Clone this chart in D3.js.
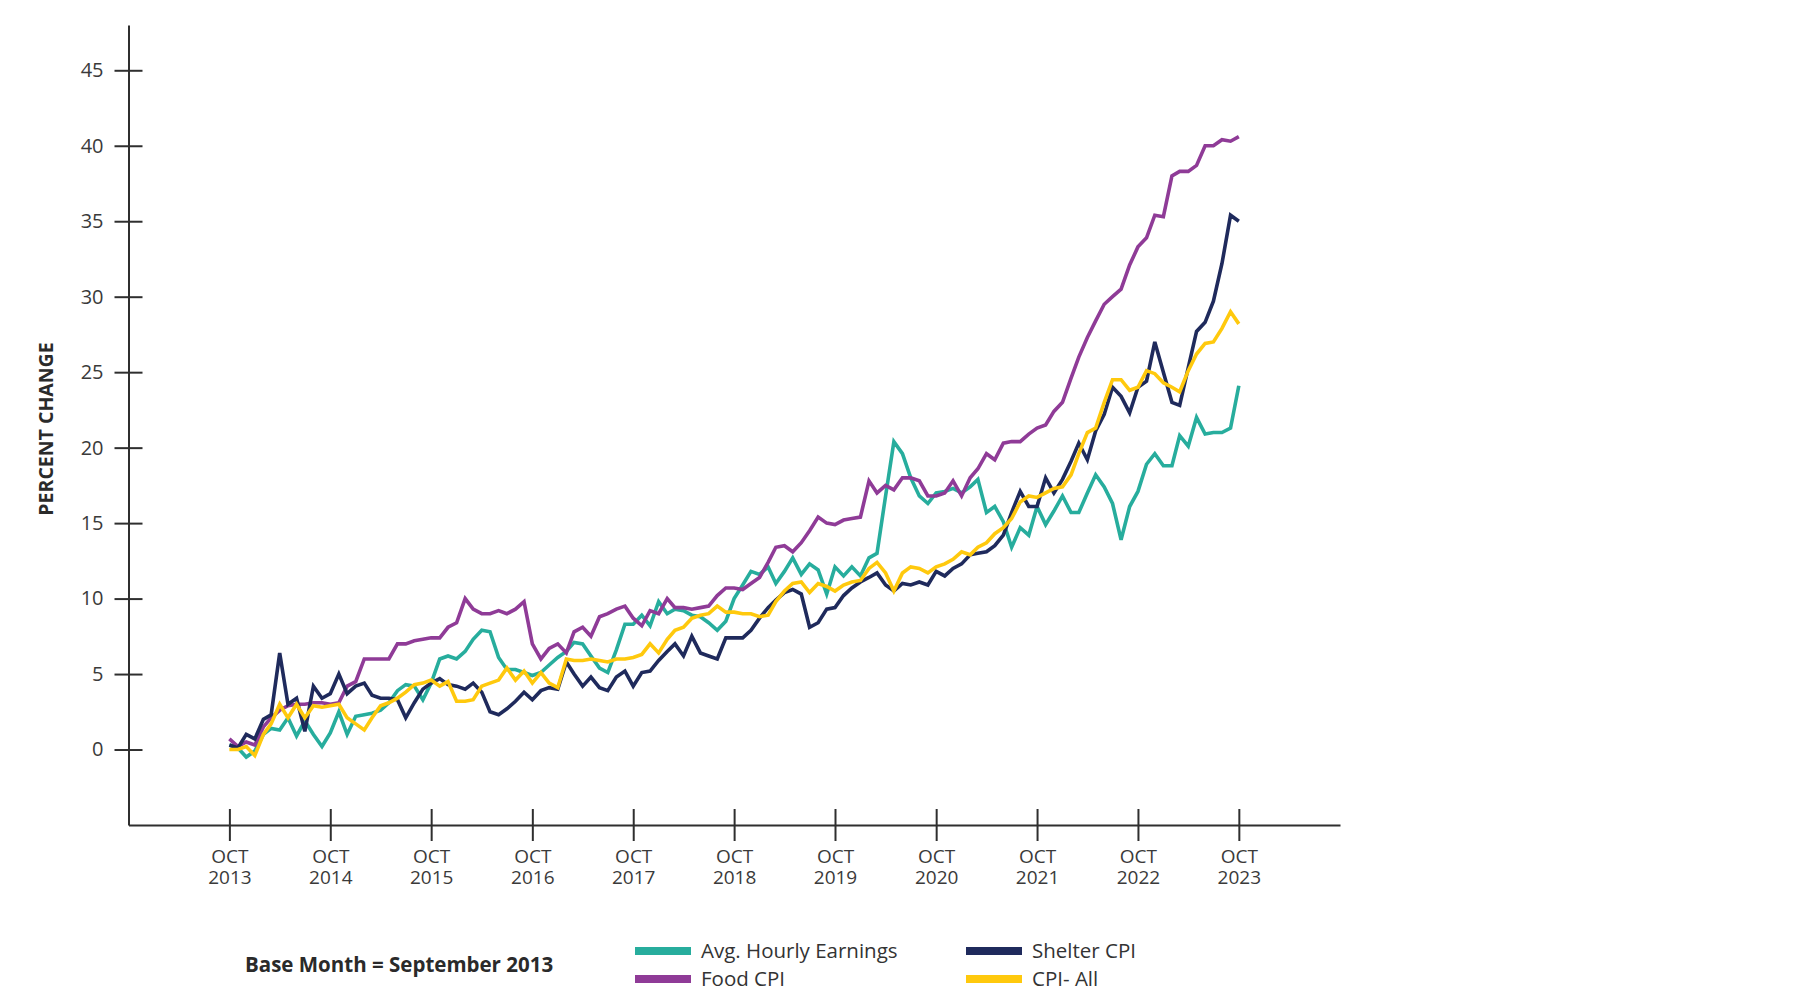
<!DOCTYPE html>
<html>
<head>
<meta charset="utf-8">
<script src="https://cdn.jsdelivr.net/npm/d3@7"></script>
<style>
  body { margin: 0; background: #fff; }
  text { font-family: "Open Sans", "Noto Sans", sans-serif; fill: #333; }
</style>
</head>
<body>
<svg id="chart" width="1800" height="1000"></svg>
<script>
// monthly series, Oct 2013 .. Oct 2023, percent change from Sep 2013
var firstMonth = new Date(Date.UTC(2013, 9, 1));

var earnings = [
  0.3, 0.1, -0.5, -0.1, 1.0, 1.4, 1.3, 2.1, 0.9, 1.9,
  1.0, 0.2, 1.1, 2.5, 1.0, 2.2, 2.3, 2.4, 2.6, 3.1,
  3.9, 4.3, 4.2, 3.3, 4.4, 6.0, 6.2, 6.0, 6.5, 7.3,
  7.9, 7.8, 6.1, 5.3, 5.3, 5.1, 4.9, 5.1, 5.6, 6.1,
  6.5, 7.1, 7.0, 6.2, 5.4, 5.1, 6.6, 8.3, 8.3, 8.9,
  8.2, 9.8, 9.0, 9.3, 9.2, 8.9, 8.8, 8.4, 7.9, 8.5,
  10.0, 10.9, 11.8, 11.6, 12.1, 11.0, 11.8, 12.7, 11.6, 12.3,
  11.9, 10.3, 12.1, 11.5, 12.1, 11.5, 12.7, 13.0, 16.8, 20.4,
  19.6, 18.0, 16.8, 16.3, 17.0, 17.1, 17.3, 17.0, 17.4, 17.9,
  15.7, 16.1, 15.1, 13.4, 14.7, 14.2, 16.1, 14.9, 15.8, 16.8,
  15.7, 15.7, 17.0, 18.2, 17.4, 16.3, 13.9, 16.1, 17.1, 18.9,
  19.6, 18.8, 18.8, 20.8, 20.1, 22.0, 20.9, 21.0, 21.0, 21.3,
  24.1];

var food = [
  0.7, 0.2, 0.5, 0.3, 1.5, 2.1, 2.6, 2.9, 3.0, 3.0,
  3.1, 3.1, 3.0, 3.1, 4.2, 4.5, 6.0, 6.0, 6.0, 6.0,
  7.0, 7.0, 7.2, 7.3, 7.4, 7.4, 8.1, 8.4, 10.0, 9.3,
  9.0, 9.0, 9.2, 9.0, 9.3, 9.8, 7.0, 6.0, 6.7, 7.0,
  6.4, 7.8, 8.1, 7.5, 8.8, 9.0, 9.3, 9.5, 8.7, 8.2,
  9.2, 9.0, 10.0, 9.4, 9.4, 9.3, 9.4, 9.5, 10.2, 10.7,
  10.7, 10.6, 11.0, 11.4, 12.4, 13.4, 13.5, 13.1, 13.7, 14.5,
  15.4, 15.0, 14.9, 15.2, 15.3, 15.4, 17.8, 17.0, 17.5, 17.2,
  18.0, 18.0, 17.8, 16.8, 16.8, 17.0, 17.8, 16.8, 18.0, 18.6,
  19.6, 19.2, 20.3, 20.4, 20.4, 20.9, 21.3, 21.5, 22.4, 23.0,
  24.6, 26.0, 27.3, 28.4, 29.5, 30.0, 30.5, 32.1, 33.3, 33.9,
  35.4, 35.3, 38.0, 38.3, 38.3, 38.7, 40.0, 40.0, 40.4, 40.3,
  40.6];

var shelter = [
  0.3, 0.1, 1.0, 0.7, 2.0, 2.3, 6.4, 3.0, 3.4, 1.2,
  4.2, 3.4, 3.7, 5.0, 3.7, 4.2, 4.4, 3.6, 3.4, 3.4,
  3.3, 2.1, 3.1, 4.0, 4.4, 4.7, 4.3, 4.2, 4.0, 4.4,
  3.8, 2.5, 2.3, 2.7, 3.2, 3.8, 3.3, 3.9, 4.1, 4.0,
  5.8, 5.0, 4.2, 4.8, 4.1, 3.9, 4.8, 5.2, 4.2, 5.1,
  5.2, 5.9, 6.5, 7.0, 6.2, 7.5, 6.4, 6.2, 6.0, 7.4,
  7.4, 7.4, 7.9, 8.7, 9.4, 9.9, 10.4, 10.6, 10.3, 8.1,
  8.4, 9.3, 9.4, 10.2, 10.7, 11.1, 11.4, 11.7, 10.9, 10.5,
  11.0, 10.9, 11.1, 10.9, 11.8, 11.5, 12.0, 12.3, 12.9, 13.0,
  13.1, 13.5, 14.2, 15.7, 17.1, 16.1, 16.1, 18.0, 17.0, 17.9,
  19.1, 20.3, 19.2, 21.1, 22.2, 24.0, 23.4, 22.3, 24.0, 24.4,
  27.0, 25.0, 23.0, 22.8, 25.3, 27.7, 28.3, 29.7, 32.2, 35.4,
  35.0];

var cpiAll = [
  0.0, 0.0, 0.2, -0.4, 1.0, 1.7, 3.0, 2.1, 3.0, 2.1,
  2.9, 2.8, 2.9, 3.0, 2.1, 1.7, 1.3, 2.1, 2.9, 3.1,
  3.4, 3.8, 4.3, 4.4, 4.6, 4.2, 4.5, 3.2, 3.2, 3.3,
  4.2, 4.4, 4.6, 5.4, 4.6, 5.2, 4.4, 5.1, 4.4, 4.1,
  6.0, 5.9, 5.9, 6.0, 5.9, 5.8, 6.0, 6.0, 6.1, 6.3,
  7.0, 6.4, 7.3, 7.9, 8.1, 8.7, 8.9, 9.0, 9.5, 9.1,
  9.1, 9.0, 9.0, 8.8, 8.9, 9.8, 10.5, 11.0, 11.1, 10.4,
  11.0, 10.8, 10.5, 10.9, 11.1, 11.2, 12.0, 12.4, 11.7, 10.5,
  11.7, 12.1, 12.0, 11.7, 12.1, 12.3, 12.6, 13.1, 12.9, 13.4,
  13.7, 14.3, 14.7, 15.3, 16.4, 16.8, 16.7, 17.0, 17.3, 17.4,
  18.2, 19.6, 21.0, 21.3, 23.0, 24.5, 24.5, 23.8, 24.0, 25.1,
  24.9, 24.3, 24.0, 23.7, 25.1, 26.2, 26.9, 27.0, 27.9, 29.0,
  28.2];

var seriesNames = ["Avg. Hourly Earnings", "Food CPI", "Shelter CPI", "CPI- All"];
var seriesColors = ["#27ad9d", "#8f3b97", "#1f2a5c", "#ffc90d"];
var seriesValues = [earnings, food, shelter, cpiAll];

var yTicks = [0, 5, 10, 15, 20, 25, 30, 35, 40, 45];
var tickYears = [2013, 2014, 2015, 2016, 2017, 2018, 2019, 2020, 2021, 2022, 2023];

var svg = d3.select("#chart");

// scales
var x = d3.scaleUtc()
  .domain([new Date(Date.UTC(2012, 9, 1)), new Date(Date.UTC(2024, 9, 1))])
  .range([128.5, 1340]);

var y = d3.scaleLinear()
  .domain([-5, 48])
  .range([825, 25]);

var axisColor = "#2f2f2f";

// y axis, ticks crossing the line
var yAxis = svg.append("g")
  .attr("transform", "translate(128.5,0)")
  .call(d3.axisLeft(y).tickValues(yTicks).tickSize(14).tickSizeOuter(0).tickPadding(11));
yAxis.select(".domain").attr("stroke", axisColor).attr("stroke-width", 2);
yAxis.selectAll(".tick line").attr("x1", -14).attr("x2", 14)
  .attr("stroke", axisColor).attr("stroke-width", 2);
yAxis.selectAll(".tick text")
  .style("font-size", "20px").style("fill", "#3a3a3a");

// x axis, two-line labels
var xAxis = svg.append("g")
  .attr("transform", "translate(0," + y(-5) + ")")
  .call(d3.axisBottom(x)
    .tickValues(tickYears.map(function (yr) { return new Date(Date.UTC(yr, 9, 1)); }))
    .tickSize(16).tickSizeOuter(0).tickFormat(""));
xAxis.select(".domain").attr("stroke", axisColor).attr("stroke-width", 2);
xAxis.selectAll(".tick line").attr("y1", -16).attr("y2", 16)
  .attr("stroke", axisColor).attr("stroke-width", 2);
xAxis.selectAll(".tick").each(function (d) {
  var g = d3.select(this);
  g.append("text")
    .attr("text-anchor", "middle").attr("y", 38)
    .style("font-size", "19px").style("fill", "#3a3a3a")
    .text("OCT");
  g.append("text")
    .attr("text-anchor", "middle").attr("y", 59)
    .style("font-size", "19px").style("fill", "#3a3a3a")
    .text(d.getUTCFullYear());
});

// y axis title
svg.append("text")
  .attr("transform", "translate(53,429) rotate(-90)")
  .attr("text-anchor", "middle")
  .style("font-size", "19.5px")
  .style("font-weight", "bold")
  .style("fill", "#2a2a2a")
  .text("PERCENT CHANGE");

// lines
var line = d3.line()
  .x(function (d, i) { return x(d3.utcMonth.offset(firstMonth, i)); })
  .y(function (d) { return y(d); });

svg.append("g").selectAll("path")
  .data(seriesValues)
  .enter()
  .append("path")
  .attr("d", function (d) { return line(d); })
  .attr("fill", "none")
  .attr("stroke", function (d, i) { return seriesColors[i]; })
  .attr("stroke-width", 3.6)
  .attr("stroke-linejoin", "miter");

// legend
svg.append("text")
  .attr("x", 245).attr("y", 972)
  .style("font-size", "20.5px")
  .style("font-weight", "bold")
  .style("fill", "#2a2a2a")
  .text("Base Month = September 2013");

var legendPos = [
  { "sx": 635, "y": 951 },
  { "sx": 635, "y": 979 },
  { "sx": 966, "y": 951 },
  { "sx": 966, "y": 979 }];

var legend = svg.append("g").selectAll("g")
  .data(seriesNames)
  .enter()
  .append("g")
  .attr("transform", function (d, i) { return "translate(" + legendPos[i].sx + "," + legendPos[i].y + ")"; });

legend.append("rect")
  .attr("x", 0).attr("y", -4)
  .attr("width", 56).attr("height", 8)
  .attr("fill", function (d, i) { return seriesColors[i]; });

legend.append("text")
  .attr("x", 66).attr("y", 7)
  .style("font-size", "20.5px")
  .style("fill", "#333")
  .text(function (d) { return d; });
</script>
</body>
</html>
